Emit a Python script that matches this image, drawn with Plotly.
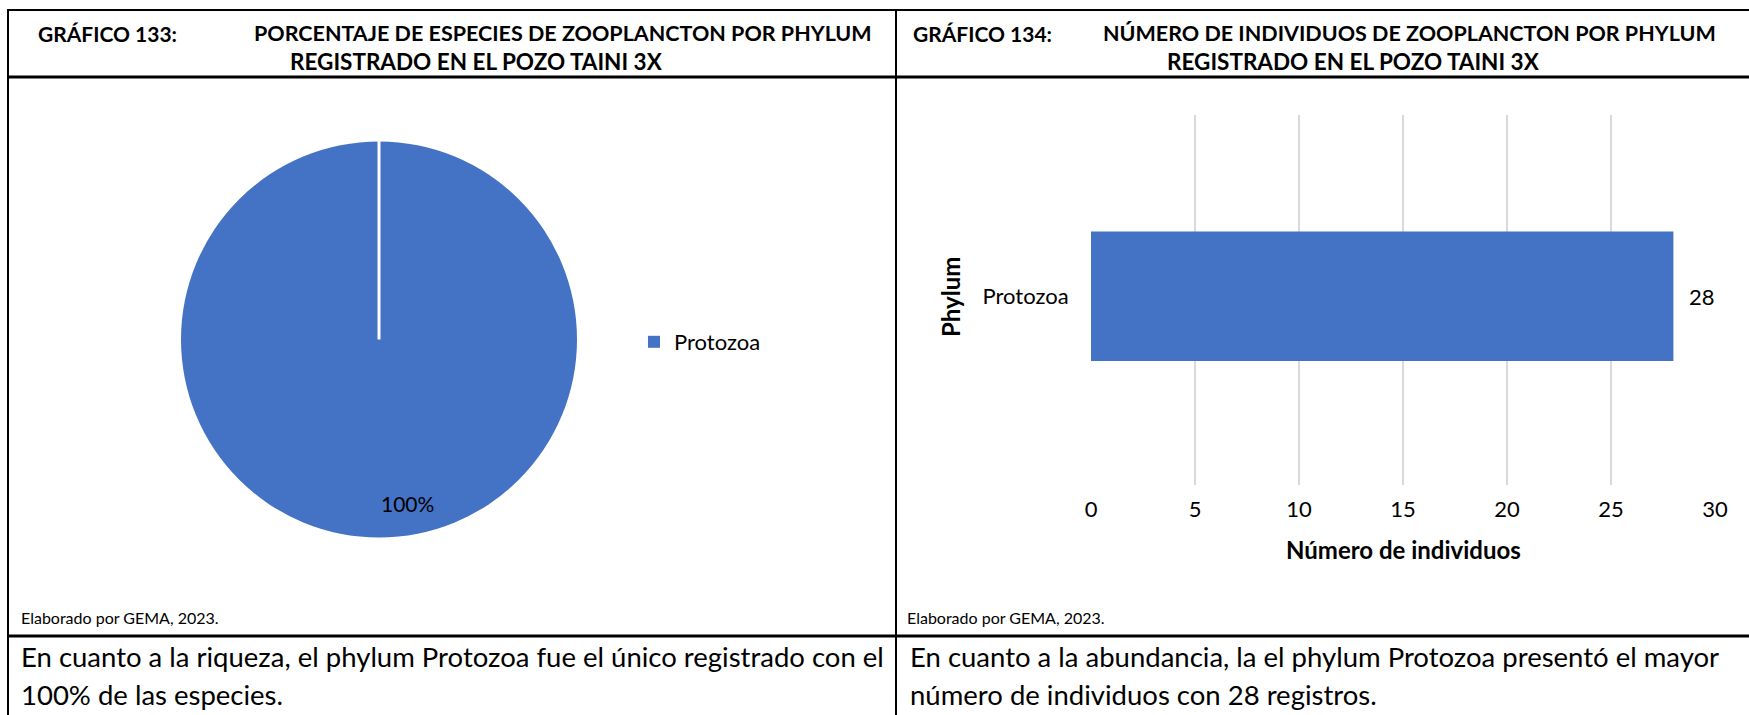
import plotly.graph_objects as go

# Data
phyla = ["Protozoa"]
species_pct = [100]
individuals = [28]
x_ticks = [0, 5, 10, 15, 20, 25, 30]

W, H = 1749, 715
BLUE = "#4472C4"
FONT = "Lato"


def px(x):
    return x / W


def py(y):
    return 1 - y / H


fig = go.Figure()

# Pie: species share per phylum
cx, cy, r = 379, 339.5, 198
fig.add_trace(go.Pie(
    labels=phyla, values=species_pct,
    marker=dict(colors=[BLUE], line=dict(color="white", width=0)),
    textinfo="none", sort=False, direction="clockwise", rotation=0,
    domain=dict(x=[px(cx - r), px(cx + r)], y=[py(cy + r), py(cy - r)]),
    showlegend=True, hoverinfo="label+percent",
))

# Horizontal bar: number of individuals per phylum
fig.add_trace(go.Bar(
    x=individuals, y=phyla, orientation="h",
    marker=dict(color=BLUE, line=dict(width=0)),
    showlegend=False, xaxis="x", yaxis="y",
))

x0_px, x1_px = 1091, 1715
top_px, bot_px = 115, 485

fig.update_layout(
    width=W, height=H,
    margin=dict(l=0, r=0, t=0, b=0),
    paper_bgcolor="white", plot_bgcolor="white",
    font=dict(family=FONT, color="black"),
    bargap=0.65,
    xaxis=dict(
        domain=[px(x0_px), px(x1_px)], range=[0, 30],
        tickvals=x_ticks, ticktext=[str(t) for t in x_ticks],
        showgrid=True, gridcolor="#d9d9d9", gridwidth=2,
        zeroline=False, showline=False,
        ticks="outside", ticklen=5, tickcolor="rgba(0,0,0,0)",
        tickfont=dict(size=22, family=FONT, color="black"),
        anchor="y", fixedrange=True, automargin=False,
    ),
    yaxis=dict(
        domain=[py(bot_px), py(top_px)], range=[-0.51, 0.49],
        showgrid=False, zeroline=False, showline=False,
        ticks="outside", ticklen=17, tickcolor="rgba(0,0,0,0)",
        tickfont=dict(size=22, family=FONT, color="black"),
        anchor="x", fixedrange=True, automargin=False,
    ),
    legend=dict(
        x=px(634), y=py(342), xanchor="left", yanchor="middle",
        font=dict(size=22, family=FONT, color="black"),
        bgcolor="rgba(0,0,0,0)", itemwidth=30,
    ),
)

# Value label for the bar
for name, val in zip(phyla, individuals):
    fig.add_annotation(
        x=val, y=name, xref="x", yref="y", text=str(val),
        showarrow=False, xanchor="left", xshift=14,
        font=dict(size=22, family=FONT, color="black"),
    )

# Percentage label inside the pie
total = sum(species_pct)
for name, val in zip(phyla, species_pct):
    fig.add_annotation(
        x=px(cx), y=py(cy + 0.83 * r), xref="paper", yref="paper",
        text=f"{100 * val / total:.0f}%", showarrow=False,
        yanchor="middle",
        font=dict(size=21, family=FONT, color="black"),
    )

# Slice border at 12 o'clock
fig.add_shape(type="line", xref="paper", yref="paper",
              x0=px(cx), y0=py(cy), x1=px(cx), y1=py(cy - r - 1),
              line=dict(color="white", width=3))


def text(x, y, s, size, bold=False, xanchor="left", angle=0):
    fig.add_annotation(
        x=px(x), y=py(y), xref="paper", yref="paper",
        text=f"<b>{s}</b>" if bold else s, showarrow=False,
        xanchor=xanchor, yanchor="middle", textangle=angle,
        font=dict(size=size, family=FONT, color="black"),
    )


# Axis titles
text(1403, 549, "Número de individuos", 24, bold=True, xanchor="center")
text(950, 297, "Phylum", 24, bold=True, xanchor="center", angle=-90)

# Table headers
text(36, 33, "GRÁFICO 133:", 21, bold=True)
text(563, 33, "PORCENTAJE DE ESPECIES DE ZOOPLANCTON POR PHYLUM", 21.5, bold=True, xanchor="center")
text(477, 62, "REGISTRADO EN EL POZO TAINI 3X", 22.5, bold=True, xanchor="center")
text(911, 33, "GRÁFICO 134:", 21, bold=True)
text(1101, 33, "NÚMERO DE INDIVIDUOS DE ZOOPLANCTON POR PHYLUM", 21.5, bold=True)
text(1353, 62, "REGISTRADO EN EL POZO TAINI 3X", 22.5, bold=True, xanchor="center")

# Sources
text(19, 617, "Elaborado por GEMA, 2023.", 16)
text(905, 617, "Elaborado por GEMA, 2023.", 16)

# Body paragraphs
text(19, 656, "En cuanto a la riqueza, el phylum Protozoa fue el único registrado con el", 27.5)
text(19, 694, "100% de las especies.", 27.5)
text(908, 656, "En cuanto a la abundancia, la el phylum Protozoa presentó el mayor", 27.5)
text(908, 694, "número de individuos con 28 registros.", 27.5)


# Table rules
def hline(y, x0, x1, w):
    fig.add_shape(type="line", xref="paper", yref="paper",
                  x0=px(x0), x1=px(x1), y0=py(y), y1=py(y),
                  line=dict(color="black", width=w))


def vline(x, y0, y1, w):
    fig.add_shape(type="line", xref="paper", yref="paper",
                  x0=px(x), x1=px(x), y0=py(y0), y1=py(y1),
                  line=dict(color="black", width=w))


hline(10, 7, W, 2)
hline(77, 7, W, 3)
hline(636, 7, W, 3)
vline(8, 9, H, 2)
vline(896, 9, H, 2)

fig.write_html("out.html")
